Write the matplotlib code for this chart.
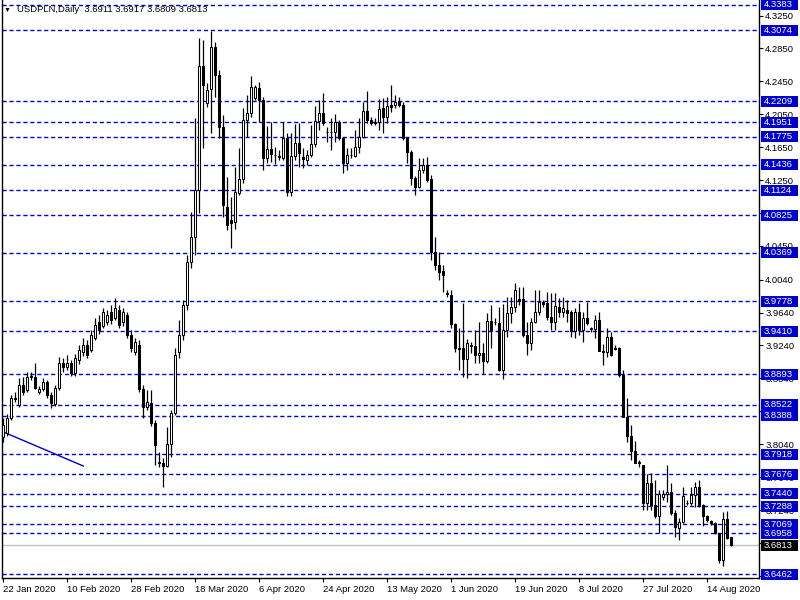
import matplotlib
matplotlib.use("Agg")
import matplotlib.pyplot as plt
import matplotlib.transforms as mtransforms
from matplotlib.patches import Rectangle

plt.rcParams['font.family'] = ['Liberation Sans', 'DejaVu Sans']

# --- daily USDPLN candles, bar 0 = 22 Jan 2020 ---
opens = [
    3.813, 3.818, 3.836, 3.860, 3.852, 3.876, 3.870, 3.887, 3.886, 3.867,
    3.871, 3.880, 3.864, 3.853, 3.872, 3.903, 3.898, 3.903, 3.891, 3.906,
    3.916, 3.925, 3.918, 3.933, 3.953, 3.948, 3.953, 3.965, 3.957, 3.967,
    3.953, 3.961, 3.937, 3.916, 3.925, 3.871, 3.849, 3.854, 3.830, 3.782,
    3.781, 3.777, 3.804, 3.842, 3.916, 3.937, 3.973, 4.025, 4.056, 4.113,
    4.264, 4.219, 4.236, 4.287, 4.253, 4.190, 4.092, 4.077, 4.074, 4.109,
    4.126, 4.198, 4.207, 4.225, 4.237, 4.222, 4.152, 4.163, 4.156, 4.154,
    4.152, 4.176, 4.110, 4.154, 4.170, 4.153, 4.149, 4.155, 4.169, 4.197,
    4.207, 4.184, 4.183, 4.183, 4.196, 4.176, 4.146, 4.155, 4.154, 4.165,
    4.177, 4.209, 4.198, 4.196, 4.196, 4.213, 4.202, 4.216, 4.216, 4.221,
    4.216, 4.176, 4.159, 4.128, 4.117, 4.137, 4.143, 4.126, 4.038, 4.022,
    4.014, 3.988, 3.985, 3.950, 3.921, 3.921, 3.908, 3.923, 3.923, 3.912,
    3.915, 3.905, 3.954, 3.953, 3.951, 3.894, 3.943, 3.963, 3.971, 3.980,
    3.980, 3.937, 3.927, 3.953, 3.965, 3.977, 3.976, 3.959, 3.953, 3.971,
    3.965, 3.967, 3.965, 3.942, 3.965, 3.943, 3.957, 3.944, 3.944, 3.955,
    3.917, 3.916, 3.934, 3.921, 3.921, 3.888, 3.837, 3.814, 3.796, 3.782,
    3.779, 3.733, 3.757, 3.730, 3.717, 3.740, 3.743, 3.746, 3.720, 3.702,
    3.709, 3.733, 3.733, 3.742, 3.752, 3.730, 3.717, 3.711, 3.708, 3.696,
    3.663, 3.713, 3.6911,
]
highs = [
    3.836, 3.841, 3.864, 3.868, 3.884, 3.886, 3.892, 3.892, 3.903, 3.875,
    3.884, 3.882, 3.868, 3.876, 3.910, 3.909, 3.912, 3.906, 3.914, 3.925,
    3.933, 3.931, 3.943, 3.957, 3.961, 3.970, 3.967, 3.973, 3.982, 3.973,
    3.970, 3.965, 3.943, 3.933, 3.931, 3.876, 3.870, 3.870, 3.833, 3.795,
    3.787, 3.825, 3.846, 3.921, 3.955, 3.979, 4.034, 4.086, 4.200, 4.298,
    4.295, 4.243, 4.306, 4.293, 4.259, 4.204, 4.129, 4.104, 4.141, 4.164,
    4.213, 4.228, 4.252, 4.241, 4.244, 4.226, 4.191, 4.196, 4.165, 4.162,
    4.196, 4.182, 4.182, 4.193, 4.194, 4.164, 4.162, 4.192, 4.215, 4.222,
    4.231, 4.189, 4.200, 4.205, 4.198, 4.177, 4.164, 4.164, 4.186, 4.200,
    4.220, 4.233, 4.202, 4.200, 4.224, 4.225, 4.226, 4.241, 4.228, 4.226,
    4.220, 4.177, 4.162, 4.130, 4.152, 4.152, 4.153, 4.131, 4.056, 4.038,
    4.022, 3.991, 3.991, 3.951, 3.945, 3.976, 3.932, 3.928, 3.943, 3.953,
    3.927, 3.963, 3.973, 3.957, 3.971, 3.974, 3.983, 3.983, 4.000, 3.995,
    3.995, 3.953, 3.957, 3.991, 3.991, 3.979, 3.989, 3.988, 3.988, 3.982,
    3.983, 3.979, 3.967, 3.970, 3.976, 3.965, 3.977, 3.947, 3.961, 3.965,
    3.926, 3.945, 3.940, 3.925, 3.922, 3.894, 3.860, 3.827, 3.808, 3.785,
    3.779, 3.768, 3.769, 3.760, 3.748, 3.748, 3.779, 3.757, 3.724, 3.714,
    3.752, 3.736, 3.752, 3.758, 3.760, 3.731, 3.718, 3.712, 3.709, 3.696,
    3.722, 3.723, 3.6917,
]
lows = [
    3.807, 3.814, 3.833, 3.855, 3.849, 3.864, 3.867, 3.882, 3.871, 3.865,
    3.869, 3.860, 3.848, 3.850, 3.870, 3.892, 3.894, 3.887, 3.887, 3.901,
    3.911, 3.909, 3.916, 3.931, 3.938, 3.945, 3.949, 3.950, 3.955, 3.945,
    3.948, 3.933, 3.916, 3.912, 3.867, 3.836, 3.846, 3.826, 3.779, 3.776,
    3.752, 3.776, 3.788, 3.839, 3.909, 3.931, 3.967, 4.018, 4.034, 4.085,
    4.164, 4.214, 4.182, 4.226, 4.176, 4.080, 4.064, 4.042, 4.066, 4.107,
    4.121, 4.177, 4.202, 4.222, 4.196, 4.137, 4.146, 4.147, 4.145, 4.149,
    4.149, 4.106, 4.106, 4.149, 4.141, 4.140, 4.143, 4.153, 4.165, 4.186,
    4.192, 4.171, 4.162, 4.171, 4.174, 4.134, 4.137, 4.152, 4.153, 4.158,
    4.176, 4.194, 4.192, 4.192, 4.186, 4.182, 4.194, 4.208, 4.213, 4.214,
    4.174, 4.146, 4.119, 4.107, 4.115, 4.134, 4.123, 4.028, 4.016, 4.004,
    3.989, 3.983, 3.945, 3.916, 3.894, 3.886, 3.884, 3.915, 3.903, 3.903,
    3.889, 3.903, 3.921, 3.949, 3.893, 3.883, 3.934, 3.951, 3.965, 3.973,
    3.934, 3.912, 3.918, 3.951, 3.961, 3.971, 3.955, 3.943, 3.943, 3.959,
    3.959, 3.953, 3.934, 3.933, 3.937, 3.928, 3.949, 3.940, 3.933, 3.917,
    3.900, 3.910, 3.911, 3.918, 3.886, 3.837, 3.807, 3.785, 3.781, 3.776,
    3.724, 3.724, 3.724, 3.714, 3.696, 3.736, 3.734, 3.718, 3.691, 3.688,
    3.708, 3.730, 3.730, 3.728, 3.728, 3.705, 3.710, 3.706, 3.695, 3.660,
    3.656, 3.689, 3.6809,
]
closes = [
    3.827, 3.836, 3.860, 3.859, 3.876, 3.867, 3.886, 3.886, 3.872, 3.871,
    3.880, 3.864, 3.854, 3.872, 3.903, 3.898, 3.903, 3.891, 3.909, 3.918,
    3.925, 3.912, 3.937, 3.949, 3.943, 3.965, 3.961, 3.955, 3.970, 3.949,
    3.965, 3.937, 3.921, 3.928, 3.871, 3.849, 3.855, 3.830, 3.803, 3.781,
    3.777, 3.804, 3.842, 3.912, 3.937, 3.973, 4.025, 4.056, 4.113, 4.264,
    4.241, 4.235, 4.287, 4.253, 4.190, 4.095, 4.070, 4.073, 4.110, 4.126,
    4.198, 4.207, 4.238, 4.238, 4.222, 4.152, 4.163, 4.157, 4.155, 4.153,
    4.176, 4.110, 4.154, 4.170, 4.158, 4.151, 4.155, 4.169, 4.197, 4.207,
    4.194, 4.183, 4.184, 4.196, 4.176, 4.146, 4.155, 4.156, 4.165, 4.177,
    4.209, 4.198, 4.194, 4.195, 4.211, 4.202, 4.215, 4.214, 4.220, 4.216,
    4.176, 4.159, 4.128, 4.117, 4.137, 4.143, 4.125, 4.038, 4.022, 4.013,
    4.010, 3.987, 3.950, 3.921, 3.920, 3.908, 3.927, 3.924, 3.912, 3.915,
    3.905, 3.954, 3.943, 3.952, 3.894, 3.943, 3.963, 3.971, 3.991, 3.978,
    3.937, 3.927, 3.953, 3.965, 3.977, 3.974, 3.959, 3.953, 3.972, 3.965,
    3.970, 3.963, 3.942, 3.965, 3.943, 3.957, 3.951, 3.945, 3.955, 3.917,
    3.916, 3.934, 3.912, 3.920, 3.888, 3.837, 3.814, 3.796, 3.781, 3.781,
    3.733, 3.757, 3.730, 3.717, 3.743, 3.743, 3.746, 3.720, 3.703, 3.709,
    3.741, 3.732, 3.742, 3.752, 3.730, 3.717, 3.712, 3.708, 3.696, 3.663,
    3.713, 3.690, 3.6813,
]

date_labels = ["22 Jan 2020", "10 Feb 2020", "28 Feb 2020", "18 Mar 2020",
               "6 Apr 2020", "24 Apr 2020", "13 May 2020", "1 Jun 2020",
               "19 Jun 2020", "8 Jul 2020", "27 Jul 2020", "14 Aug 2020"]
date_ticks = [0, 16, 32, 48, 64, 80, 96, 112, 128, 144, 160, 176]

# right-hand scale; the ones fully hidden behind level boxes get no text
price_ticks = [4.3250, 4.2850, 4.2450, 4.2050, 4.1650, 4.1250, 4.0850, 4.0450,
               4.0040, 3.9640, 3.9240, 3.8840, 3.8440, 3.8040, 3.7640, 3.7240,
               3.6840, 3.6440]
hidden_ticks = [4.0850, 3.8440, 3.6840]

levels = [4.3383, 4.3074, 4.2209, 4.1951, 4.1775, 4.1436, 4.1124, 4.0825,
          4.0369, 3.9778, 3.9410, 3.8893, 3.8522, 3.8388, 3.7918, 3.7676,
          3.7440, 3.7288, 3.7069, 3.6958, 3.6462]
bid = 3.6813

trend_x = [0, 20]
trend_y = [3.8189, 3.7775]

title = "USDPLN,Daily  3.6911 3.6917 3.6809 3.6813"

BLUE = '#0000cd'
FS = 6.8

fig = plt.figure(figsize=(8, 6), dpi=100)
ax = fig.add_axes([2 / 800, 22 / 600, 757 / 800, 578 / 600])
ax.set_xlim(-0.33, 189)
ax.set_ylim(3.6414, 4.3439)

# horizontal levels
for lv in levels:
    ax.axhline(lv, color=BLUE, lw=1.0, linestyle=(0, (3, 2)), zorder=1)
ax.axhline(bid, color='#c0c0c0', lw=1.0, zorder=1)
ax.plot(trend_x, trend_y, color=BLUE, lw=1.0, zorder=2)

# candles
n = len(opens)
xs = list(range(n))
ax.vlines(xs, lows, highs, color='black', lw=0.9, zorder=3)
bottoms = [min(o, c) for o, c in zip(opens, closes)]
heights = [max(abs(c - o), 0.0003) for o, c in zip(opens, closes)]
fills = ['white' if c >= o else 'black' for o, c in zip(opens, closes)]
ax.bar(xs, heights, bottom=bottoms, width=0.55, color=fills,
       edgecolor='black', linewidth=0.75, zorder=4)

# axes styling
for s in ['left', 'right', 'bottom']:
    ax.spines[s].set_color('black')
    ax.spines[s].set_linewidth(1.0)
ax.spines['top'].set_visible(False)

ax.yaxis.tick_right()
ax.set_yticks(price_ticks)
ax.set_yticklabels(["" if v in hidden_ticks else f"{v:.4f}" for v in price_ticks])
ax.tick_params(axis='y', length=3, width=0.8, pad=1.5, labelsize=FS, colors='black')

ax.set_xticks(date_ticks)
ax.set_xticklabels(date_labels)
ax.tick_params(axis='x', length=3, width=0.8, pad=2, labelsize=FS)
for lbl in ax.get_xticklabels():
    lbl.set_ha('left')

# price labels on the right
trans = mtransforms.blended_transform_factory(ax.transAxes, ax.transData)
box_h = 0.0134
for lv in levels:
    ax.add_patch(Rectangle((1.0026, lv - box_h / 2), 0.0489, box_h, transform=trans,
                           facecolor=BLUE, edgecolor='none', clip_on=False, zorder=5))
    ax.text(1.0066, lv, f"{lv:.4f}", transform=trans, color='white', fontsize=FS,
            va='center', ha='left', clip_on=False, zorder=6)
ax.add_patch(Rectangle((1.0026, bid - box_h / 2), 0.0489, box_h, transform=trans,
                       facecolor='black', edgecolor='none', clip_on=False, zorder=5))
ax.text(1.0066, bid, f"{bid:.4f}", transform=trans, color='white', fontsize=FS,
        va='center', ha='left', clip_on=False, zorder=6)

# header
fig.text(4 / 800, 1 - 10 / 600, '▼', fontsize=5, va='center', ha='left')
fig.text(17 / 800, 1 - 10 / 600, title, fontsize=FS, va='center', ha='left')

fig.savefig("out.png", dpi=100)
